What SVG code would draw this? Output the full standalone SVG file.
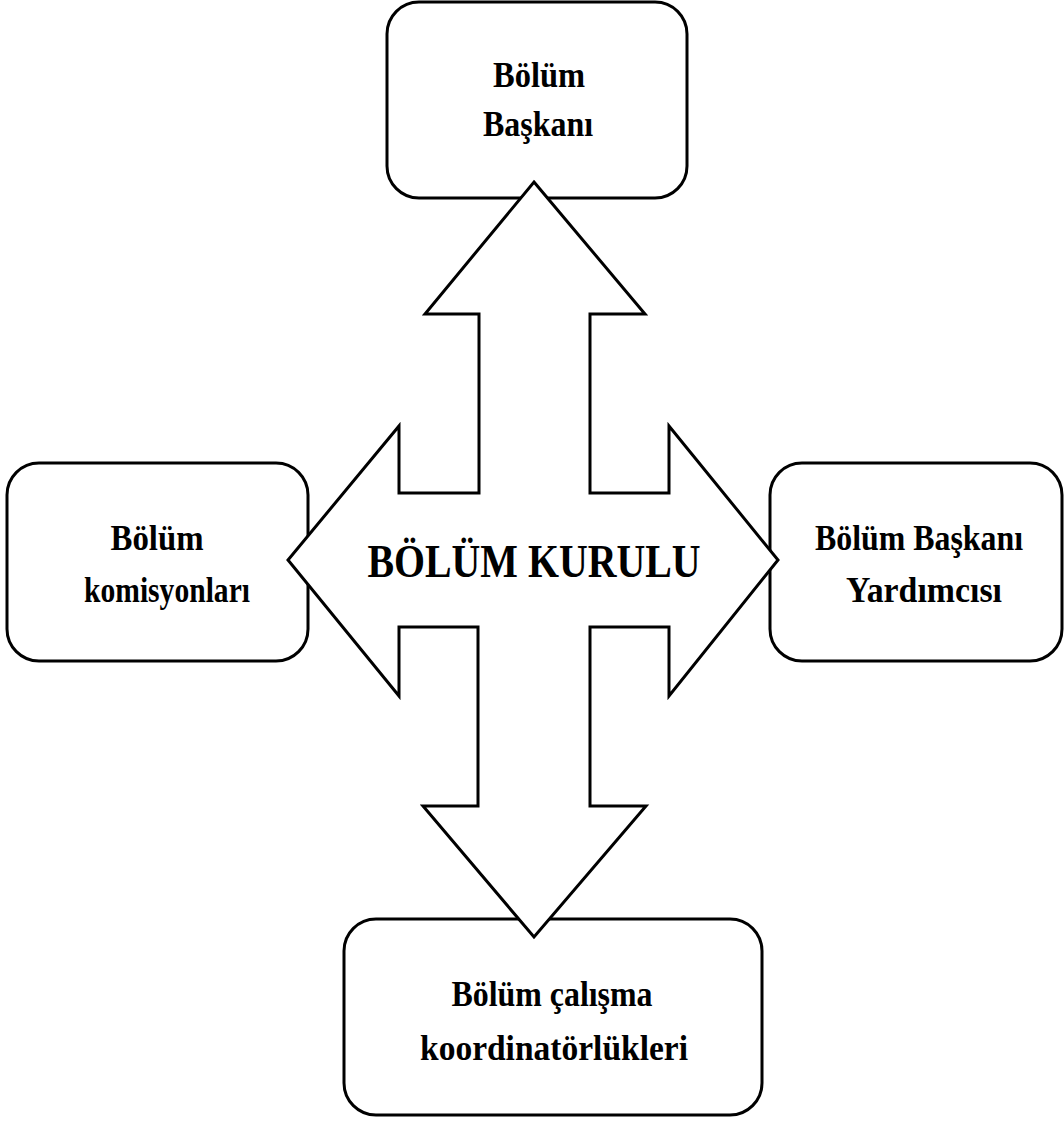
<svg xmlns="http://www.w3.org/2000/svg" width="1064" height="1124" viewBox="0 0 1064 1124">
<style>
.box{fill:#fff;stroke:#000;stroke-width:3}
.arrow{fill:#fff;stroke:#000;stroke-width:3;stroke-linejoin:miter}
.t{font-family:"Liberation Serif","Times New Roman",serif;font-weight:bold;font-size:35px;fill:#000;text-anchor:middle}
.c{font-size:47px}
</style>
<rect width="1064" height="1124" fill="#fff"/>
<g id="node-baskan"><rect class="box" x="387" y="2" width="300" height="196" rx="32"/>
<text class="t" x="539" y="87" textLength="92" lengthAdjust="spacingAndGlyphs">Bölüm</text>
<text class="t" x="538" y="136" textLength="110" lengthAdjust="spacingAndGlyphs">Başkanı</text></g>
<g id="node-komisyon"><rect class="box" x="7" y="463" width="301" height="198" rx="32"/>
<text class="t" x="157" y="550" textLength="93" lengthAdjust="spacingAndGlyphs">Bölüm</text>
<text class="t" x="167" y="602" textLength="166" lengthAdjust="spacingAndGlyphs">komisyonları</text></g>
<g id="node-yardimci"><rect class="box" x="770" y="463" width="292" height="198" rx="32"/>
<text class="t" x="919" y="550" textLength="208" lengthAdjust="spacingAndGlyphs">Bölüm Başkanı</text>
<text class="t" x="924" y="602" textLength="156" lengthAdjust="spacingAndGlyphs">Yardımcısı</text></g>
<g id="node-koordinator"><rect class="box" x="344" y="919" width="418" height="196" rx="32"/>
<text class="t" x="552" y="1006" textLength="201" lengthAdjust="spacingAndGlyphs">Bölüm çalışma</text>
<text class="t" x="554" y="1060" textLength="268" lengthAdjust="spacingAndGlyphs">koordinatörlükleri</text></g>
<g id="connectors">
<polygon class="arrow" points="534,182 645,314 590,314 590,493 669,493 669,426 778,560 669,696 669,627 590,627 590,806 646,806 534,937 423,806 478,806 478,627 399,627 399,696 288,560 399,426 399,493 479,493 479,314 425,314"/>
</g>
<g id="node-kurul"><text class="t c" x="534" y="577" textLength="333" lengthAdjust="spacingAndGlyphs">BÖLÜM KURULU</text></g>
</svg>
